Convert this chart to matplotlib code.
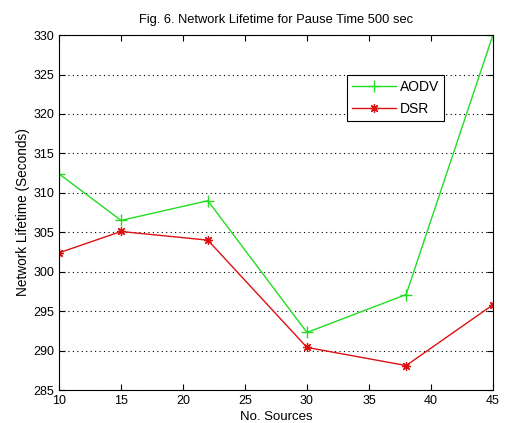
import matplotlib
matplotlib.use("Agg")
import matplotlib.pyplot as plt

sources = [10, 15, 22, 30, 38, 45]
aodv = [312.4, 306.5, 309.0, 292.3, 297.1, 330.0]
dsr = [302.4, 305.1, 304.0, 290.4, 288.1, 295.8]
yticks = [285, 290, 295, 300, 305, 310, 315, 320, 325, 330]
xticks = [10, 15, 20, 25, 30, 35, 40, 45]

plt.rcParams['font.family'] = ['Liberation Sans', 'DejaVu Sans']

fig = plt.figure(figsize=(5.05, 4.23), dpi=100)
ax = fig.add_axes([0.117, 0.078, 0.859, 0.839])

ax.plot(sources, aodv, color='#22dd22', marker='+', markersize=9, linewidth=1.0, label='AODV')
ax.plot(sources, dsr, color='#dd1111', marker=(8, 2, 0), markersize=6.5, markeredgewidth=0.9,
        linewidth=1.0, label='DSR')

ax.set_xlim(10, 45)
ax.set_ylim(285, 330)
ax.set_xticks(xticks)
ax.set_yticks(yticks)
ax.tick_params(direction='in', top=True, right=True, labelsize=9, length=4, width=0.8)
ax.yaxis.grid(True, linestyle=(0, (1, 3)), color='black', linewidth=0.8)
for s in ax.spines.values():
    s.set_linewidth(0.8)

ax.set_title('Fig. 6. Network Lifetime for Pause Time 500 sec', fontsize=9.3, pad=9)
ax.set_xlabel('No. Sources', fontsize=9.5, labelpad=3)
ax.set_ylabel('Network Lifetime (Seconds)', fontsize=9.8, labelpad=2)

leg = ax.legend(loc='upper left', bbox_to_anchor=(0.663, 0.887), fontsize=10,
                frameon=True, fancybox=False, edgecolor='black', framealpha=1,
                borderpad=0.35, handlelength=3.2, labelspacing=0.55, handletextpad=0.25,
                borderaxespad=0)
leg.get_frame().set_linewidth(0.8)

fig.savefig('out.png', dpi=100)
